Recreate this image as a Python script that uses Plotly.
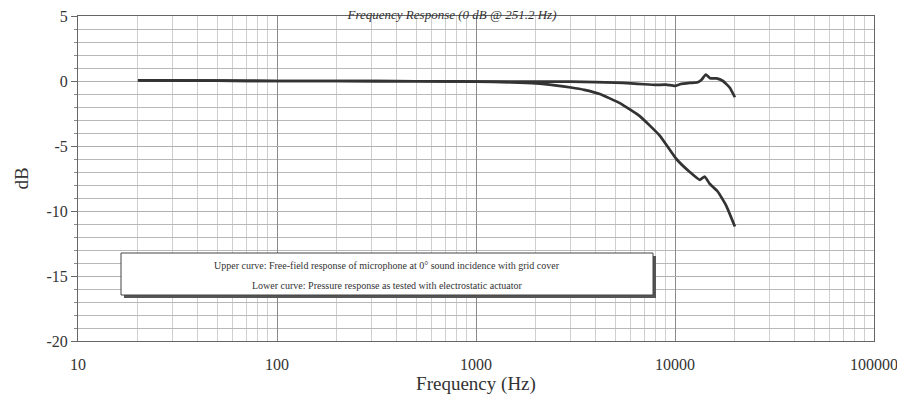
import plotly.graph_objects as go

freq_upper = [20, 50, 100, 200, 500, 1000, 2000, 3000, 4000, 5000, 6000, 7000, 8000, 9000,
              10000, 10600, 11860, 13000, 13600, 14280, 15000, 16160, 17420, 18820, 20000]
db_upper = [0.05, 0.03, 0.0, 0.0, -0.02, -0.04, -0.05, -0.05, -0.08, -0.12, -0.18, -0.25, -0.3, -0.28,
            -0.38, -0.25, -0.15, -0.1, 0.1, 0.5, 0.22, 0.2, 0.0, -0.5, -1.25]

freq_lower = [20, 50, 100, 200, 500, 1000, 1500, 2000, 2500, 3000, 3500, 4190, 5280, 6650,
              8380, 10160, 11860, 13300, 14100, 14920, 16390, 18100, 20000]
db_lower = [0.05, 0.03, 0.0, 0.0, -0.02, -0.05, -0.1, -0.18, -0.33, -0.5, -0.68, -1.0, -1.7, -2.7,
            -4.2, -6.0, -7.0, -7.6, -7.35, -7.9, -8.5, -9.6, -11.2]

x_tickvals = [10, 100, 1000, 10000, 100000]
x_ticktext = ["10", "100", "1000", "10000", "100000"]
y_tickvals = [5, 0, -5, -10, -15, -20]
y_ticktext = ["5", "0", "-5", "-10", "-15", "-20"]

title_text = "Frequency Response (0 dB @ 251.2 Hz)"
legend_lines = ["Upper curve: Free-field response of microphone at 0° sound incidence with grid cover",
                "Lower curve: Pressure response as tested with electrostatic actuator"]

FONT = "Liberation Serif, Times New Roman, serif"
LINE = "#333333"
TXT = "#333333"

fig = go.Figure()
fig.add_trace(go.Scatter(x=freq_upper, y=db_upper, mode="lines",
                         line=dict(color=LINE, width=2.7, shape="spline", smoothing=0.4),
                         showlegend=False))
fig.add_trace(go.Scatter(x=freq_lower, y=db_lower, mode="lines",
                         line=dict(color=LINE, width=2.7, shape="spline", smoothing=0.4),
                         showlegend=False))

# page has an 8px body margin; size the figure to the visible area
OFF = 8
W, H = 905 - OFF, 400 - OFF
L, R, T, B = 78 - OFF, 31, 16 - OFF, 59
pw, ph = W - L - R, H - T - B

def px(x):
    # x in page pixels
    return (x - OFF - L) / pw

def py(y):
    return (H - B - (y - OFF)) / ph

fig.update_layout(
    width=W, height=H,
    margin=dict(l=L, r=R, t=T, b=B, autoexpand=False),
    paper_bgcolor="white", plot_bgcolor="white",
    font=dict(family=FONT, color=TXT),
    title=dict(text=title_text, x=(452 - OFF) / W, xanchor="center", y=1 - 1.5 / H, yanchor="top",
               pad=dict(t=0, b=0),
               font=dict(family=FONT, size=13, color=TXT, style="italic")),
    xaxis=dict(type="log", range=[1, 5], tickvals=x_tickvals, ticktext=x_ticktext,
               tickfont=dict(family=FONT, size=16, color=TXT),
               ticks="", ticklabelstandoff=9, automargin=False, ticklabeloverflow="allow",
               showgrid=True, gridcolor="#8a8a8a", gridwidth=1,
               minor=dict(dtick="D1", showgrid=True, gridcolor="#cfcfcf", gridwidth=1),
               showline=True, linecolor="#666666", linewidth=1, mirror=True,
               zeroline=False,
               title=dict(text="Frequency (Hz)", font=dict(family=FONT, size=19, color=TXT),
                          standoff=4)),
    yaxis=dict(range=[-20, 5], tickvals=y_tickvals, ticktext=y_ticktext,
               tickfont=dict(family=FONT, size=16, color=TXT),
               ticks="outside", ticklen=6, tickcolor="#666666", automargin=False,
               ticklabeloverflow="allow",
               showgrid=True, gridcolor="#b0b0b0", gridwidth=1,
               minor=dict(dtick=1, showgrid=True, gridcolor="#b8b8b8", gridwidth=1,
                          ticks="outside", ticklen=3, tickcolor="#888888"),
               showline=True, linecolor="#666666", linewidth=1, mirror=True,
               zeroline=False,
               title=dict(text="dB", font=dict(family=FONT, size=19, color=TXT),
                          standoff=12)),
)

# legend box with shadow (page pixel coordinates)
bx0, bx1, by0, by1 = 121, 653, 253, 295
fig.add_shape(type="rect", xref="paper", yref="paper",
              x0=px(bx0 + 3), x1=px(bx1 + 3), y0=py(by1 + 3), y1=py(by0 + 3),
              line=dict(width=0), fillcolor="#555555", layer="above")
fig.add_shape(type="rect", xref="paper", yref="paper",
              x0=px(bx0), x1=px(bx1), y0=py(by1), y1=py(by0),
              line=dict(width=1, color="#444444"), fillcolor="white", layer="above")
fig.add_annotation(xref="paper", yref="paper", x=px((bx0 + bx1) / 2), y=py(265),
                   text=legend_lines[0], showarrow=False, yanchor="middle",
                   font=dict(family=FONT, size=10, color=TXT))
fig.add_annotation(xref="paper", yref="paper", x=px((bx0 + bx1) / 2), y=py(285),
                   text=legend_lines[1], showarrow=False, yanchor="middle",
                   font=dict(family=FONT, size=10, color=TXT))

fig.write_html("out.html")
